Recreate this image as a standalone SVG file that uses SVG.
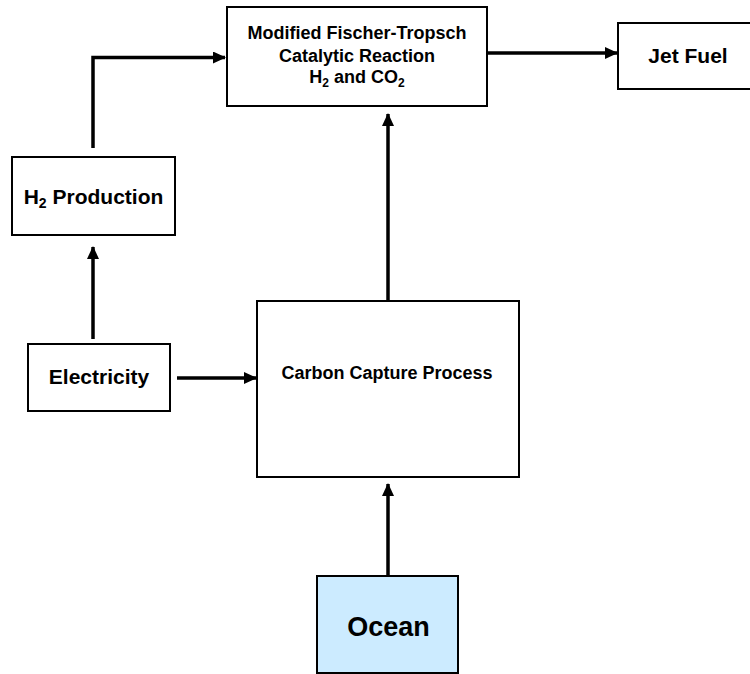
<svg xmlns="http://www.w3.org/2000/svg" width="750" height="674" viewBox="0 0 750 674">
  <style>
    .box { fill: #ffffff; stroke: #000000; stroke-width: 2; }
    .ocean { fill: #CCEBFF; stroke: #000000; stroke-width: 2; }
    .lbl { font-family: "Liberation Sans", Arial, sans-serif; font-weight: bold; fill: #000000; text-anchor: middle; }
    .conn { fill: none; stroke: #000000; stroke-width: 3.5; }
  </style>
  <defs>
    <marker id="arrow" markerUnits="userSpaceOnUse" markerWidth="13" markerHeight="12" refX="12" refY="6" orient="auto">
      <path d="M0,0 L13,6 L0,12 z" fill="#000000"/>
    </marker>
  </defs>
  <rect width="750" height="674" fill="#ffffff"/>

  <g id="connectors">
    <path class="conn" d="M93,148 V57.5 H225" marker-end="url(#arrow)"/>
    <path class="conn" d="M93,339 V247" marker-end="url(#arrow)"/>
    <path class="conn" d="M177,378 H256" marker-end="url(#arrow)"/>
    <path class="conn" d="M388,300 V114" marker-end="url(#arrow)"/>
    <path class="conn" d="M388,576 V484" marker-end="url(#arrow)"/>
    <path class="conn" d="M487,53 H617" marker-end="url(#arrow)"/>
  </g>

  <g id="node-ft">
    <rect class="box" x="227" y="7" width="260" height="99"/>
    <text class="lbl" x="357" y="39" font-size="18">Modified Fischer-Tropsch</text>
    <text class="lbl" x="357" y="62" font-size="18">Catalytic Reaction</text>
    <text class="lbl" x="357" y="83" font-size="18">H<tspan font-size="12" dy="4">2</tspan><tspan dy="-4"> and CO</tspan><tspan font-size="12" dy="4">2</tspan></text>
  </g>

  <g id="node-jetfuel">
    <rect class="box" x="618" y="23" width="140" height="66"/>
    <text class="lbl" x="688" y="63" font-size="21">Jet Fuel</text>
  </g>

  <g id="node-h2">
    <rect class="box" x="12" y="157" width="163" height="78"/>
    <text class="lbl" x="93.5" y="204" font-size="21">H<tspan font-size="14" dy="4">2</tspan><tspan dy="-4"> Production</tspan></text>
  </g>

  <g id="node-electricity">
    <rect class="box" x="28" y="344" width="142" height="67"/>
    <text class="lbl" x="99" y="384" font-size="21">Electricity</text>
  </g>

  <g id="node-carbon">
    <rect class="box" x="257" y="301" width="262" height="176"/>
    <text class="lbl" x="387" y="379" font-size="18">Carbon Capture Process</text>
  </g>

  <g id="node-ocean">
    <rect class="ocean" x="317" y="576" width="141" height="97"/>
    <text class="lbl" x="388.5" y="636" font-size="27">Ocean</text>
  </g>
</svg>
